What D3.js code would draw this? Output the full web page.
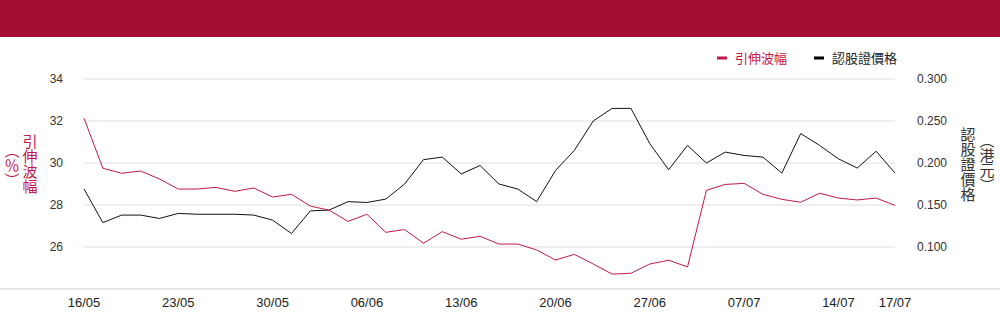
<!DOCTYPE html>
<html>
<head>
<meta charset="utf-8">
<script src="https://cdn.jsdelivr.net/npm/d3@7"></script>
<style>
  body { margin: 0; background: #fff; }
  svg { display: block; font-family: "Liberation Sans", "Noto Sans CJK TC", sans-serif; }
</style>
</head>
<body>
<div id="chart"></div>
<script>
// trading days
const dates = ["16/05","19/05","20/05","21/05","22/05","23/05","26/05","27/05","28/05","29/05",
  "30/05","02/06","03/06","04/06","05/06","06/06","09/06","10/06","11/06","12/06",
  "13/06","16/06","17/06","18/06","19/06","20/06","23/06","24/06","25/06","26/06",
  "27/06","30/06","02/07","03/07","04/07","07/07","08/07","09/07","10/07","11/07",
  "14/07","15/07","16/07","17/07"];
const tickDates = ["16/05","23/05","30/05","06/06","13/06","20/06","27/06","07/07","14/07","17/07"];

// 引伸波幅 (%)
const vol = [32.13,29.75,29.51,29.62,29.24,28.76,28.76,28.84,28.65,28.81,
  28.38,28.51,27.95,27.75,27.22,27.56,26.70,26.83,26.18,26.73,
  26.37,26.51,26.14,26.14,25.86,25.38,25.65,25.19,24.71,24.75,
  25.19,25.37,25.05,28.70,28.98,29.03,28.51,28.27,28.13,28.56,
  28.33,28.24,28.33,27.98];

// 認股證價格 (港元)
const price = [0.169,0.129,0.138,0.138,0.134,0.140,0.139,0.139,0.139,0.138,
  0.132,0.116,0.143,0.144,0.154,0.153,0.157,0.175,0.204,0.207,
  0.187,0.197,0.175,0.169,0.154,0.191,0.215,0.250,0.265,0.265,
  0.223,0.192,0.221,0.200,0.213,0.209,0.207,0.188,0.235,0.221,
  0.205,0.194,0.214,0.188];

const volTicks = [26, 28, 30, 32, 34];
const priceTicks = [0.100, 0.150, 0.200, 0.250, 0.300];

const width = 1000, height = 324;
const red = "#c2184a", banner = "#a30e33";

const svg = d3.select("#chart").append("svg")
  .attr("width", width)
  .attr("height", height);

svg.append("rect")
  .attr("width", width)
  .attr("height", 37)
  .attr("fill", banner);

const x = d3.scalePoint().domain(dates).range([84, 895]);
const yL = d3.scaleLinear().domain([24, 34]).range([289, 79]);
const yR = d3.scaleLinear().domain([0.05, 0.30]).range([289, 79]);

// grid
svg.append("g")
  .selectAll("line")
  .data(volTicks)
  .join("line")
  .attr("x1", 84).attr("x2", 895)
  .attr("y1", d => yL(d)).attr("y2", d => yL(d))
  .attr("stroke", "#dedede");

svg.append("line")
  .attr("x1", 0).attr("x2", width)
  .attr("y1", yL(24)).attr("y2", yL(24))
  .attr("stroke", "#cccccc");

// left axis labels
svg.append("g")
  .selectAll("text")
  .data(volTicks)
  .join("text")
  .attr("x", 63)
  .attr("y", d => yL(d))
  .attr("dy", "0.35em")
  .attr("text-anchor", "end")
  .attr("font-size", 12)
  .attr("fill", "#333")
  .text(d => d);

// right axis labels
svg.append("g")
  .selectAll("text")
  .data(priceTicks)
  .join("text")
  .attr("x", 917)
  .attr("y", d => yR(d))
  .attr("dy", "0.35em")
  .attr("font-size", 12)
  .attr("fill", "#333")
  .text(d => d3.format(".3f")(d));

// x labels
svg.append("g")
  .selectAll("text")
  .data(tickDates)
  .join("text")
  .attr("x", d => x(d))
  .attr("y", 307)
  .attr("text-anchor", "middle")
  .attr("font-size", 13)
  .attr("fill", "#222")
  .text(d => d);

// axis titles (vertical)
function vtitle(txt, cx, cy, color) {
  svg.append("text")
    .attr("x", cx)
    .attr("y", cy)
    .attr("text-anchor", "middle")
    .attr("font-size", 15)
    .attr("fill", color)
    .style("writing-mode", "vertical-rl")
    .style("font-family", "'Noto Sans CJK TC', sans-serif")
    .text(txt);
}
vtitle("引伸波幅", 30, 164, red);
vtitle("（％）", 12, 165, red);
vtitle("認股證價格", 968, 164, "#333");
vtitle("（港元）", 987, 163, "#333");

// lines
const volLine = d3.line()
  .x((d, i) => x(dates[i]))
  .y(d => yL(d));
const priceLine = d3.line()
  .x((d, i) => x(dates[i]))
  .y(d => yR(d));

svg.append("path")
  .datum(price)
  .attr("fill", "none")
  .attr("stroke", "#111")
  .attr("stroke-width", 1)
  .attr("d", priceLine);

svg.append("path")
  .datum(vol)
  .attr("fill", "none")
  .attr("stroke", red)
  .attr("stroke-width", 1)
  .attr("d", volLine);

// legend
const legend = [
  { name: "引伸波幅", color: red, x: 717, tc: red },
  { name: "認股證價格", color: "#000", x: 814, tc: "#222" }
];
const lg = svg.append("g")
  .selectAll("g")
  .data(legend)
  .join("g")
  .attr("transform", d => "translate(" + d.x + ",58)");
lg.append("rect")
  .attr("x", 0).attr("y", -1.5)
  .attr("width", 10).attr("height", 3)
  .attr("fill", d => d.color);
lg.append("text")
  .attr("x", 18)
  .attr("dy", "0.35em")
  .attr("font-size", 13)
  .style("font-family", "'Noto Sans CJK TC', sans-serif")
  .attr("fill", d => d.tc)
  .text(d => d.name);
</script>
</body>
</html>
